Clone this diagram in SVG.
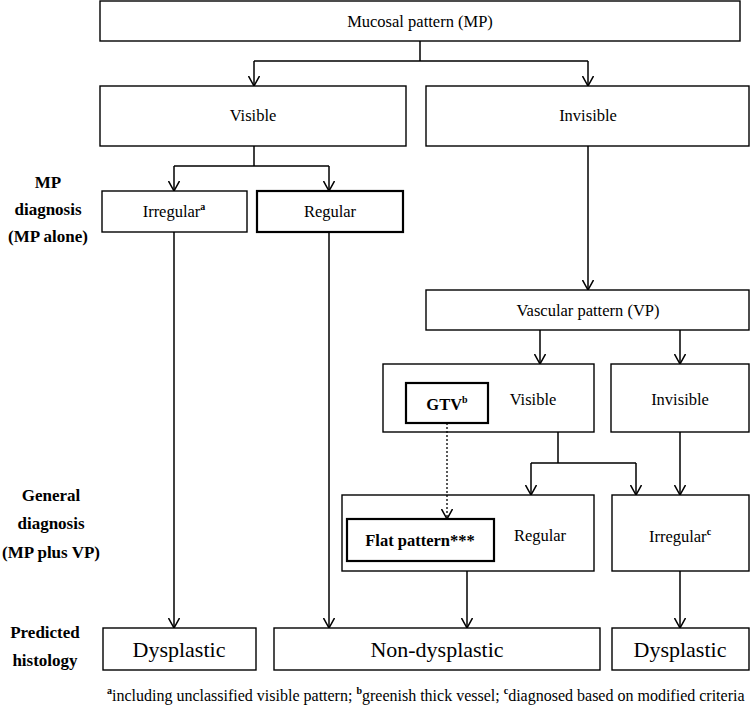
<svg xmlns="http://www.w3.org/2000/svg" width="751" height="706" viewBox="0 0 751 706">
<defs>
<style>
text{font-family:'Liberation Serif','Times New Roman',Tinos,'Nimbus Roman',serif;fill:#000}
.box{fill:#fff;stroke:#000;stroke-width:1.4}
.thick{fill:#fff;stroke:#000;stroke-width:2.2}
.t{font-size:16.5px;text-anchor:middle}
.big{font-size:22px;text-anchor:middle}
.lab{font-size:17px;font-weight:bold;text-anchor:middle}
.b{font-weight:bold}
.sup{font-size:10px;font-weight:bold}
.fn{font-size:16px}
.ln{fill:none;stroke:#000;stroke-width:1.5}
.arr{fill:none;stroke:#000;stroke-width:1.5;marker-end:url(#ah)}
.dot{fill:none;stroke:#000;stroke-width:1.3;stroke-dasharray:2,2;marker-end:url(#ah)}
</style>
<marker id="ah" viewBox="0 0 10 12" refX="10" refY="6" markerWidth="10" markerHeight="12" markerUnits="userSpaceOnUse" orient="auto">
<path d="M0,0.5 L10,6 L0,11.5" fill="none" stroke="#000" stroke-width="1.5" stroke-dasharray="none"/>
</marker>
</defs>
<rect width="751" height="706" fill="#fff"/>

<g id="labels">
<text class="lab" x="48" y="188">MP</text>
<text class="lab" x="48" y="215">diagnosis</text>
<text class="lab" x="48" y="242">(MP alone)</text>
<text class="lab" x="51" y="501">General</text>
<text class="lab" x="51" y="529">diagnosis</text>
<text class="lab" x="51" y="558">(MP plus VP)</text>
<text class="lab" x="45" y="638">Predicted</text>
<text class="lab" x="45" y="666">histology</text>
</g>

<g id="mucosal">
<rect class="box" x="100" y="1" width="640" height="40"/>
<text class="t" x="420" y="27">Mucosal pattern (MP)</text>
</g>
<g id="mp-visible">
<rect class="box" x="100" y="86" width="306" height="60"/>
<text class="t" x="253" y="121">Visible</text>
</g>
<g id="mp-invisible">
<rect class="box" x="426" y="86" width="323" height="60"/>
<text class="t" x="588" y="121">Invisible</text>
</g>
<g id="mp-irregular">
<rect class="box" x="102" y="191" width="145" height="41"/>
<text class="t" x="174" y="217">Irregular<tspan class="sup" dy="-7">a</tspan></text>
</g>
<g id="mp-regular">
<rect class="thick" x="257" y="191" width="146" height="41"/>
<text class="t" x="330" y="217">Regular</text>
</g>
<g id="vascular">
<rect class="box" x="426" y="290" width="323" height="40"/>
<text class="t" x="588" y="316">Vascular pattern (VP)</text>
</g>
<g id="vp-visible">
<rect class="box" x="383" y="364" width="211" height="68"/>
<text class="t" x="533" y="405">Visible</text>
</g>
<g id="gtv">
<rect class="thick" x="406" y="383" width="82" height="40"/>
<text class="t b" x="447" y="410">GTV<tspan class="sup" dy="-7">b</tspan></text>
</g>
<g id="vp-invisible">
<rect class="box" x="611" y="364" width="138" height="68"/>
<text class="t" x="680" y="405">Invisible</text>
</g>
<g id="gen-regular">
<rect class="box" x="342" y="495" width="252" height="76"/>
<text class="t" x="540" y="541">Regular</text>
</g>
<g id="flat">
<rect class="thick" x="347" y="519" width="147" height="42"/>
<text class="t b" x="420" y="546">Flat pattern***</text>
</g>
<g id="gen-irregular">
<rect class="box" x="612" y="495" width="137" height="76"/>
<text class="t" x="680" y="542">Irregular<tspan class="sup" dy="-7">c</tspan></text>
</g>
<g id="dysplastic-1">
<rect class="box" x="103" y="628" width="153" height="42"/>
<text class="big" x="179" y="657">Dysplastic</text>
</g>
<g id="non-dysplastic">
<rect class="box" x="274" y="628" width="326" height="42"/>
<text class="big" x="437" y="657">Non-dysplastic</text>
</g>
<g id="dysplastic-2">
<rect class="box" x="612" y="628" width="137" height="42"/>
<text class="big" x="680" y="657">Dysplastic</text>
</g>

<g id="connectors">
<path class="ln" d="M420,41 V61 M254,61 H588"/>
<path class="arr" d="M254,61 V86"/>
<path class="arr" d="M588,61 V86"/>
<path class="ln" d="M254,146 V166 M174,166 H329"/>
<path class="arr" d="M174,166 V191"/>
<path class="arr" d="M329,166 V191"/>
<path class="arr" d="M174,232 V628"/>
<path class="arr" d="M329,232 V628"/>
<path class="arr" d="M588,146 V290"/>
<path class="arr" d="M540,330 V364"/>
<path class="arr" d="M680,330 V364"/>
<path class="ln" d="M558,432 V463 M531,463 H636"/>
<path class="arr" d="M531,463 V495"/>
<path class="arr" d="M636,463 V495"/>
<path class="arr" d="M680,432 V495"/>
<path class="dot" d="M447,423 V519"/>
<path class="arr" d="M467,571 V628"/>
<path class="arr" d="M680,571 V628"/>
</g>

<g id="footnote">
<text class="fn" x="107" y="701"><tspan class="sup" dy="-7">a</tspan><tspan dy="7">including unclassified visible pattern; </tspan><tspan class="sup" dy="-7">b</tspan><tspan dy="7">greenish thick vessel; </tspan><tspan class="sup" dy="-7">c</tspan><tspan dy="7">diagnosed based on modified criteria</tspan></text>
</g>
</svg>
